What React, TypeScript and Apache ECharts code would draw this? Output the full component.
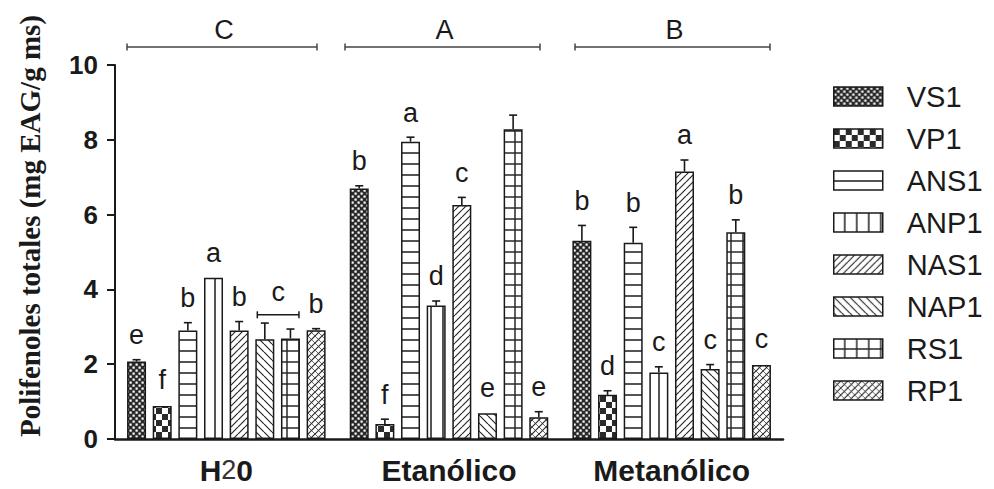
import React, { useEffect, useRef } from 'react';
import * as echarts from 'echarts';

// ---------- DATA ----------
const categories = ['H20', 'Etanólico', 'Metanólico'];
const seriesNames = ['VS1', 'VP1', 'ANS1', 'ANP1', 'NAS1', 'NAP1', 'RS1', 'RP1'];

const vs1Values = [2.07, 6.70, 5.30];
const vp1Values = [0.88, 0.40, 1.18];
const ans1Values = [2.90, 7.95, 5.25];
const anp1Values = [4.31, 3.57, 1.78];
const nas1Values = [2.90, 6.26, 7.15];
const nap1Values = [2.67, 0.69, 1.87];
const rs1Values = [2.69, 8.28, 5.53];
const rp1Values = [2.91, 0.58, 1.98];

const vs1Errors = [0.05, 0.07, 0.41];
const vp1Errors = [0.03, 0.13, 0.11];
const ans1Errors = [0.21, 0.12, 0.41];
const anp1Errors = [0.02, 0.12, 0.15];
const nas1Errors = [0.24, 0.20, 0.31];
const nap1Errors = [0.43, 0.02, 0.12];
const rs1Errors = [0.25, 0.38, 0.33];
const rp1Errors = [0.04, 0.15, 0.03];

const vs1Letters = ['e', 'b', 'b'];
const vp1Letters = ['f', 'f', 'd'];
const ans1Letters = ['b', 'a', 'b'];
const anp1Letters = ['a', 'd', 'c'];
const nas1Letters = ['b', 'c', 'a'];
const nap1Letters = ['', 'e', 'c'];
const rs1Letters = ['', '', 'b'];
const rp1Letters = ['b', 'e', 'c'];

// shared letter over a pair of bars: [category, first series, last series, value, letter]
const sharedLetters: [number, number, number, number, string][] = [[0, 5, 6, 3.32, 'c']];

// solvent-level letters above each group
const groupLetters = ['C', 'A', 'B'];
const yTicks = [0, 2, 4, 6, 8, 10];

const allValues = [vs1Values, vp1Values, ans1Values, anp1Values, nas1Values, nap1Values, rs1Values, rp1Values];
const allErrors = [vs1Errors, vp1Errors, ans1Errors, anp1Errors, nas1Errors, nap1Errors, rs1Errors, rp1Errors];
const allLetters = [vs1Letters, vp1Letters, ans1Letters, anp1Letters, nas1Letters, nap1Letters, rs1Letters, rp1Letters];

// ---------- STYLE ----------
const BAR_W = 19;
const BAR_GAP = 0.35;
const PITCH = BAR_W * (1 + BAR_GAP);
const INK = '#1a1a1a';
const HATCH = '#2a2a2a';
const SANS = '"Liberation Sans", Arial, sans-serif';
const SERIF = '"Liberation Serif", "Times New Roman", serif';

function tile(w: number, h: number, draw: (c: CanvasRenderingContext2D, w: number, h: number) => void) {
  const cv = document.createElement('canvas');
  cv.width = w;
  cv.height = h;
  const ctx = cv.getContext('2d')!;
  ctx.fillStyle = '#ffffff';
  ctx.fillRect(0, 0, w, h);
  ctx.fillStyle = HATCH;
  ctx.strokeStyle = HATCH;
  ctx.lineWidth = 1.2;
  draw(ctx, w, h);
  return { image: cv, repeat: 'repeat', imageWidth: w, imageHeight: h } as any;
}

function slash(ctx: CanvasRenderingContext2D, s: number, dir: number) {
  ctx.beginPath();
  for (let k = -1; k <= 1; k++) {
    if (dir > 0) {
      ctx.moveTo(k * s, s);
      ctx.lineTo(k * s + s, 0);
    } else {
      ctx.moveTo(k * s, 0);
      ctx.lineTo(k * s + s, s);
    }
  }
  ctx.stroke();
}

function makePatterns() {
  return [
    // VS1 fine checker
    tile(6, 6, (c) => {
      c.fillRect(0, 0, 6, 6);
      c.fillStyle = '#fff';
      c.fillRect(0.5, 0.5, 2.2, 2.2);
      c.fillRect(3.5, 3.5, 2.2, 2.2);
    }),
    // VP1 coarse checker
    tile(12, 12, (c) => {
      c.fillRect(0, 0, 6, 6);
      c.fillRect(6, 6, 6, 6);
    }),
    // ANS1 horizontal lines
    tile(12, 11, (c) => {
      c.lineWidth = 1.6;
      c.beginPath();
      c.moveTo(0, 10);
      c.lineTo(12, 10);
      c.stroke();
    }),
    // ANP1 vertical lines
    tile(12, 12, (c) => {
      c.lineWidth = 1.6;
      c.beginPath();
      c.moveTo(11, 0);
      c.lineTo(11, 12);
      c.stroke();
    }),
    // NAS1 "/"
    tile(7, 7, (c) => slash(c, 7, 1)),
    // NAP1 "\"
    tile(8, 8, (c) => slash(c, 8, -1)),
    // RS1 grid
    tile(12, 11, (c) => {
      c.lineWidth = 1.5;
      c.beginPath();
      c.moveTo(0, 10);
      c.lineTo(12, 10);
      c.moveTo(11, 0);
      c.lineTo(11, 11);
      c.stroke();
    }),
    // RP1 cross hatch
    tile(7, 7, (c) => {
      slash(c, 7, 1);
      c.lineWidth = 0.7;
      slash(c, 7, -1);
    }),
  ];
}

export default function App() {
  const ref = useRef<HTMLDivElement>(null);

  useEffect(() => {
    if (!ref.current) return;
    const chart = echarts.init(ref.current, undefined, { renderer: 'svg' });
    const patterns = makePatterns();

    const barSeries = seriesNames.map((name, i) => ({
      name,
      type: 'bar',
      data: allValues[i],
      barWidth: BAR_W,
      barGap: `${BAR_GAP * 100}%`,
      itemStyle: { color: patterns[i], borderColor: INK, borderWidth: 1.5 },
      z: 2,
    }));

    const errData: any[] = [];
    allValues.forEach((vals, si) => {
      vals.forEach((v, ci) => {
        errData.push([ci, si, v, allErrors[si][ci], allLetters[si][ci]]);
      });
    });

    const errSeries = {
      type: 'custom',
      name: 'err',
      clip: false,
      z: 5,
      encode: { x: 0, y: 2 },
      data: errData,
      renderItem: (params: any, api: any) => {
        const item = errData[params.dataIndex];
        const [ci, si, v, e, letter] = item;
        const base = api.coord([ci, v]);
        const top = api.coord([ci, v + e]);
        const x = base[0] + (si - 3.5) * PITCH;
        const children: any[] = [];
        if (e > 0.035) {
          children.push({
            type: 'line',
            shape: { x1: x, y1: base[1], x2: x, y2: top[1] },
            style: { stroke: INK, lineWidth: 1.6 },
          });
          children.push({
            type: 'line',
            shape: { x1: x - 4, y1: top[1], x2: x + 4, y2: top[1] },
            style: { stroke: INK, lineWidth: 1.6 },
          });
        }
        if (letter) {
          children.push({
            type: 'text',
            style: {
              text: letter,
              x,
              y: top[1] - 11,
              align: 'center',
              verticalAlign: 'bottom',
              textAlign: 'center',
              textVerticalAlign: 'bottom',
              fill: INK,
              font: `27px ${SANS}`,
            },
          });
        }
        return { type: 'group', children };
      },
    };

    const sharedSeries = {
      type: 'custom',
      name: 'shared',
      clip: false,
      z: 5,
      encode: { x: 0, y: 3 },
      data: sharedLetters,
      renderItem: (params: any, api: any) => {
        const [ci, s0, s1, v, letter] = sharedLetters[params.dataIndex];
        const p = api.coord([ci, v]);
        const x0 = p[0] + (s0 - 3.5) * PITCH - BAR_W / 2 + 2;
        const x1 = p[0] + (s1 - 3.5) * PITCH + BAR_W / 2 - 1;
        return {
          type: 'group',
          children: [
            { type: 'line', shape: { x1: x0, y1: p[1], x2: x1, y2: p[1] }, style: { stroke: INK, lineWidth: 1.5 } },
            { type: 'line', shape: { x1: x0, y1: p[1] - 3.5, x2: x0, y2: p[1] + 3.5 }, style: { stroke: INK, lineWidth: 1.5 } },
            { type: 'line', shape: { x1: x1, y1: p[1] - 3.5, x2: x1, y2: p[1] + 3.5 }, style: { stroke: INK, lineWidth: 1.5 } },
            {
              type: 'text',
              style: {
                text: letter,
                x: (x0 + x1) / 2,
                y: p[1] - 9,
                align: 'center',
                verticalAlign: 'bottom',
                textAlign: 'center',
                textVerticalAlign: 'bottom',
                fill: INK,
                font: `27px ${SANS}`,
              },
            },
          ],
        };
      },
    };

    const brackets = [
      [127, 317],
      [345, 540],
      [575, 770],
    ];
    const graphic: any[] = [];
    brackets.forEach(([a, b], i) => {
      graphic.push({ type: 'line', shape: { x1: a, y1: 47, x2: b, y2: 47 }, style: { stroke: '#444', lineWidth: 1.5 } });
      graphic.push({ type: 'line', shape: { x1: a, y1: 43.5, x2: a, y2: 50.5 }, style: { stroke: '#444', lineWidth: 1.5 } });
      graphic.push({ type: 'line', shape: { x1: b, y1: 43.5, x2: b, y2: 50.5 }, style: { stroke: '#444', lineWidth: 1.5 } });
      graphic.push({
        type: 'text',
        x: (a + b) / 2 + 2,
        y: 30,
        style: { text: groupLetters[i], font: `27px ${SANS}`, fill: INK, textAlign: 'center', textVerticalAlign: 'middle', align: 'center', verticalAlign: 'middle' },
      });
    });
    graphic.push({
      type: 'text',
      x: 30,
      y: 226,
      rotation: Math.PI / 2,
      style: {
        text: 'Polifenoles totales (mg EAG/g ms)',
        font: `bold 29px ${SERIF}`,
        fill: INK,
        textAlign: 'center',
        textVerticalAlign: 'middle',
        align: 'center',
        verticalAlign: 'middle',
      },
    });

    chart.setOption({
      animation: false,
      backgroundColor: '#ffffff',
      grid: { left: 115, right: 211, top: 65, bottom: 50, containLabel: false },
      legend: {
        data: seriesNames,
        orient: 'vertical',
        left: 828,
        top: 77,
        icon: 'rect',
        itemWidth: 49,
        itemHeight: 19,
        itemGap: 13,
        itemStyle: { borderColor: INK, borderWidth: 1.5 },
        textStyle: { fontSize: 29, fontFamily: SANS, color: INK, padding: [0, 0, 0, 19] },
      },
      xAxis: {
        type: 'category',
        data: categories,
        axisLine: { lineStyle: { color: INK, width: 2.5 } },
        axisTick: { alignWithLabel: true, length: 9, lineStyle: { color: INK, width: 2.5 } },
        axisLabel: {
          margin: 16,
          formatter: (v: string) => (v === 'H20' ? '{b|H}{n|2}{b|0}' : `{b|${v}}`),
          rich: {
            b: { fontSize: 30, fontWeight: 'bold', fontFamily: SANS, color: INK },
            n: { fontSize: 27, fontWeight: 'normal', fontFamily: SANS, color: '#333' },
          },
        },
      },
      yAxis: {
        type: 'value',
        min: yTicks[0],
        max: yTicks[yTicks.length - 1],
        interval: 2,
        splitLine: { show: false },
        axisLine: { show: true, lineStyle: { color: INK, width: 2 } },
        axisTick: { show: true, length: 8, lineStyle: { color: INK, width: 2 } },
        axisLabel: { margin: 17, fontSize: 26, fontWeight: 'bold', fontFamily: SANS, color: INK },
      },
      graphic,
      series: [...barSeries, errSeries, sharedSeries],
    } as any);

    return () => chart.dispose();
  }, []);

  return <div ref={ref} style={{ position: 'fixed', left: 0, top: 0, width: 994, height: 489, background: '#fff' }} />;
}
